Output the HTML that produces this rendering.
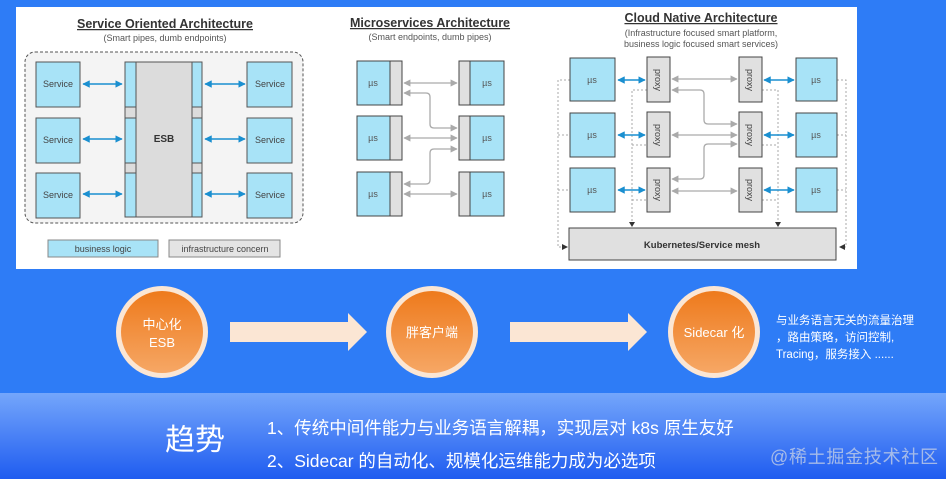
<!DOCTYPE html>
<html><head><meta charset="utf-8"><style>
html,body{margin:0;padding:0;width:949px;height:483px;overflow:hidden;background:#fff}
svg{display:block}
</style></head><body>
<svg width="949" height="483" viewBox="0 0 949 483" xmlns="http://www.w3.org/2000/svg" font-family="Liberation Sans, Noto Sans CJK SC, sans-serif">
<defs>
<linearGradient id="band" x1="0" y1="0" x2="0" y2="1"><stop offset="0" stop-color="#74a6fb"/><stop offset="1" stop-color="#1f5cf0"/></linearGradient>
<linearGradient id="orb" x1="0" y1="0" x2="0" y2="1"><stop offset="0" stop-color="#ee7a1c"/><stop offset="1" stop-color="#f6a765"/></linearGradient>
<marker id="ab" viewBox="0 0 10 10" refX="9" refY="5" markerWidth="5" markerHeight="5" orient="auto-start-reverse"><path d="M0,0L10,5L0,10z" fill="#1a8fd0"/></marker>
<marker id="ag" viewBox="0 0 10 10" refX="9" refY="5" markerWidth="5.5" markerHeight="5.5" orient="auto-start-reverse"><path d="M0,0L10,5L0,10z" fill="#aaa"/></marker>
</defs>
<rect x="0" y="0" width="949" height="483" fill="#2e7cf6"/>
<rect x="0" y="393" width="946" height="86" fill="url(#band)"/>
<rect x="946" y="0" width="3" height="483" fill="#fff"/>
<rect x="0" y="479" width="949" height="4" fill="#fff"/>
<rect x="16" y="7" width="841" height="262" fill="#fff"/>

<!-- SOA -->
<text x="165" y="28" font-size="12.5" font-weight="bold" text-anchor="middle" fill="#333" text-decoration="underline">Service Oriented Architecture</text>
<text x="165" y="41" font-size="9" text-anchor="middle" fill="#555">(Smart pipes, dumb endpoints)</text>
<rect x="25" y="52" width="278" height="171" rx="10" fill="#f4f4f4" stroke="#555" stroke-dasharray="3,2"/>
<g stroke="#555" fill="#a8e3f7">
<rect x="36" y="62" width="44" height="45"/><rect x="36" y="118" width="44" height="45"/><rect x="36" y="173" width="44" height="45"/>
<rect x="247" y="62" width="45" height="45"/><rect x="247" y="118" width="45" height="45"/><rect x="247" y="173" width="45" height="45"/>
<rect x="125" y="62" width="77" height="155" fill="#dcdcdc"/>
<rect x="125" y="62" width="11" height="45"/><rect x="125" y="118" width="11" height="45"/><rect x="125" y="173" width="11" height="44"/>
<rect x="192" y="62" width="10" height="45"/><rect x="192" y="118" width="10" height="45"/><rect x="192" y="173" width="10" height="44"/>
</g>
<line x1="136" y1="62" x2="136" y2="217" stroke="#555"/><line x1="192" y1="62" x2="192" y2="217" stroke="#555"/>
<g font-size="9" fill="#444" text-anchor="middle">
<text x="58" y="87">Service</text><text x="58" y="143">Service</text><text x="58" y="198">Service</text>
<text x="270" y="87">Service</text><text x="270" y="143">Service</text><text x="270" y="198">Service</text>
</g>
<text x="164" y="142" font-size="10" font-weight="bold" text-anchor="middle" fill="#333">ESB</text>
<g stroke="#1a8fd0" stroke-width="1.5" marker-start="url(#ab)" marker-end="url(#ab)">
<line x1="83" y1="84" x2="122" y2="84"/><line x1="83" y1="139" x2="122" y2="139"/><line x1="83" y1="194" x2="122" y2="194"/>
<line x1="205" y1="84" x2="245" y2="84"/><line x1="205" y1="139" x2="245" y2="139"/><line x1="205" y1="194" x2="245" y2="194"/>
</g>
<rect x="48" y="240" width="110" height="17" fill="#a8e3f7" stroke="#888"/>
<rect x="169" y="240" width="111" height="17" fill="#e4e4e4" stroke="#888"/>
<text x="103" y="252" font-size="9" text-anchor="middle" fill="#444">business logic</text>
<text x="225" y="252" font-size="9" text-anchor="middle" fill="#444">infrastructure concern</text>

<!-- Microservices -->
<text x="430" y="27" font-size="12.5" font-weight="bold" text-anchor="middle" fill="#333" text-decoration="underline">Microservices Architecture</text>
<text x="430" y="40" font-size="9" text-anchor="middle" fill="#555">(Smart endpoints, dumb pipes)</text>
<g stroke="#444">
<rect x="357" y="61" width="33" height="44" fill="#a8e3f7"/><rect x="390" y="61" width="12" height="44" fill="#e0e0e0"/>
<rect x="357" y="116" width="33" height="44" fill="#a8e3f7"/><rect x="390" y="116" width="12" height="44" fill="#e0e0e0"/>
<rect x="357" y="172" width="33" height="44" fill="#a8e3f7"/><rect x="390" y="172" width="12" height="44" fill="#e0e0e0"/>
<rect x="470" y="61" width="34" height="44" fill="#a8e3f7"/><rect x="459" y="61" width="11" height="44" fill="#e0e0e0"/>
<rect x="470" y="116" width="34" height="44" fill="#a8e3f7"/><rect x="459" y="116" width="11" height="44" fill="#e0e0e0"/>
<rect x="470" y="172" width="34" height="44" fill="#a8e3f7"/><rect x="459" y="172" width="11" height="44" fill="#e0e0e0"/>
</g>
<g font-size="9" fill="#555" text-anchor="middle">
<text x="373" y="86">µs</text><text x="373" y="141">µs</text><text x="373" y="197">µs</text>
<text x="487" y="86">µs</text><text x="487" y="141">µs</text><text x="487" y="197">µs</text>
</g>
<g stroke="#aaa" stroke-width="1.3" fill="none" marker-start="url(#ag)" marker-end="url(#ag)">
<line x1="404" y1="83" x2="457" y2="83"/><line x1="404" y1="138" x2="457" y2="138"/><line x1="404" y1="194" x2="457" y2="194"/>
<path d="M404,93 H426 Q430,93 430,97 V124 Q430,128 434,128 H457"/>
<path d="M404,184 H426 Q430,184 430,180 V153 Q430,149 434,149 H457"/>
</g>

<!-- Cloud native -->
<text x="701" y="22" font-size="12.5" font-weight="bold" text-anchor="middle" fill="#333" text-decoration="underline">Cloud Native Architecture</text>
<text x="701" y="36" font-size="9" text-anchor="middle" fill="#555">(Infrastructure focused smart platform,</text>
<text x="701" y="47" font-size="9" text-anchor="middle" fill="#555">business logic focused smart services)</text>
<g stroke="#aaa" stroke-dasharray="2,2" fill="none">
<path d="M570,80 H558 V247 H566"/>
<path d="M837,80 H846 V247 H840"/>
<path d="M558,135 H570"/><path d="M558,190 H570"/><path d="M837,135 H846"/><path d="M837,190 H846"/>
<path d="M647,90 H632 V224"/><path d="M632,145 H647"/><path d="M632,200 H647"/>
<path d="M762,90 H778 V224"/><path d="M762,145 H778"/><path d="M762,200 H778"/>
</g>
<g fill="#333"><path d="M629,222 L635,222 L632,227z"/><path d="M775,222 L781,222 L778,227z"/><path d="M562,244 L568,247 L562,250z"/><path d="M845,244 L839,247 L845,250z"/></g>
<g stroke="#444" fill="#a8e3f7">
<rect x="570" y="58" width="45" height="43"/><rect x="570" y="113" width="45" height="44"/><rect x="570" y="168" width="45" height="44"/>
<rect x="796" y="58" width="41" height="43"/><rect x="796" y="113" width="41" height="44"/><rect x="796" y="168" width="41" height="44"/>
</g>
<g stroke="#444" fill="#e0e0e0">
<rect x="647" y="57" width="23" height="45"/><rect x="647" y="112" width="23" height="45"/><rect x="647" y="168" width="23" height="44"/>
<rect x="739" y="57" width="23" height="45"/><rect x="739" y="112" width="23" height="45"/><rect x="739" y="168" width="23" height="44"/>
<rect x="569" y="228" width="267" height="32"/>
</g>
<g font-size="9" fill="#555" text-anchor="middle">
<text x="592" y="83">µs</text><text x="592" y="138">µs</text><text x="592" y="193">µs</text>
<text x="816" y="83">µs</text><text x="816" y="138">µs</text><text x="816" y="193">µs</text>
</g>
<g font-size="9" fill="#444" text-anchor="middle">
<text transform="translate(655,80) rotate(90)">proxy</text><text transform="translate(655,135) rotate(90)">proxy</text><text transform="translate(655,190) rotate(90)">proxy</text>
<text transform="translate(747,80) rotate(90)">proxy</text><text transform="translate(747,135) rotate(90)">proxy</text><text transform="translate(747,190) rotate(90)">proxy</text>
</g>
<text x="702" y="248" font-size="9.5" font-weight="bold" text-anchor="middle" fill="#333">Kubernetes/Service mesh</text>
<g stroke="#1a8fd0" stroke-width="1.5" marker-start="url(#ab)" marker-end="url(#ab)">
<line x1="618" y1="80" x2="645" y2="80"/><line x1="618" y1="135" x2="645" y2="135"/><line x1="618" y1="190" x2="645" y2="190"/>
<line x1="764" y1="80" x2="794" y2="80"/><line x1="764" y1="135" x2="794" y2="135"/><line x1="764" y1="190" x2="794" y2="190"/>
</g>
<g stroke="#aaa" stroke-width="1.3" fill="none" marker-start="url(#ag)" marker-end="url(#ag)">
<line x1="672" y1="79" x2="737" y2="79"/><line x1="672" y1="135" x2="737" y2="135"/><line x1="672" y1="191" x2="737" y2="191"/>
<path d="M672,90 H700 Q704,90 704,94 V120 Q704,124 708,124 H737"/>
<path d="M672,179 H700 Q704,179 704,175 V148 Q704,144 708,144 H737"/>
</g>

<!-- flow -->
<g fill="#fbe6d4">
<circle cx="162" cy="332" r="46"/><circle cx="432" cy="332" r="46"/><circle cx="714" cy="332" r="46"/>
<path d="M230,322 H348 V313 L367,332 L348,351 V342 H230z"/>
<path d="M510,322 H628 V313 L647,332 L628,351 V342 H510z"/>
</g>
<g fill="url(#orb)"><circle cx="162" cy="332" r="41"/><circle cx="432" cy="332" r="41"/><circle cx="714" cy="332" r="41"/></g>
<g fill="#fff" text-anchor="middle" font-size="13">
<text x="162" y="329">中心化</text><text x="162" y="347">ESB</text>
<text x="432" y="337">胖客户端</text>
<text x="714" y="337">Sidecar 化</text>
</g>
<g fill="#fff" font-size="11.5">
<text x="776" y="324">与业务语言无关的流量治理</text>
<text x="776" y="341">，路由策略，访问控制,</text>
<text x="776" y="358">Tracing，服务接入 ......</text>
</g>
<text x="165" y="450" font-size="30" fill="#fff">趋势</text>
<g fill="#fff" font-size="17.5">
<text x="267" y="434">1、传统中间件能力与业务语言解耦，实现层对 k8s 原生友好</text>
<text x="267" y="467">2、Sidecar 的自动化、规模化运维能力成为必选项</text>
</g>
<text x="770" y="463" font-size="18" fill="#b9c8e6" fill-opacity="0.85" textLength="168">@稀土掘金技术社区</text>
</svg>
</body></html>
